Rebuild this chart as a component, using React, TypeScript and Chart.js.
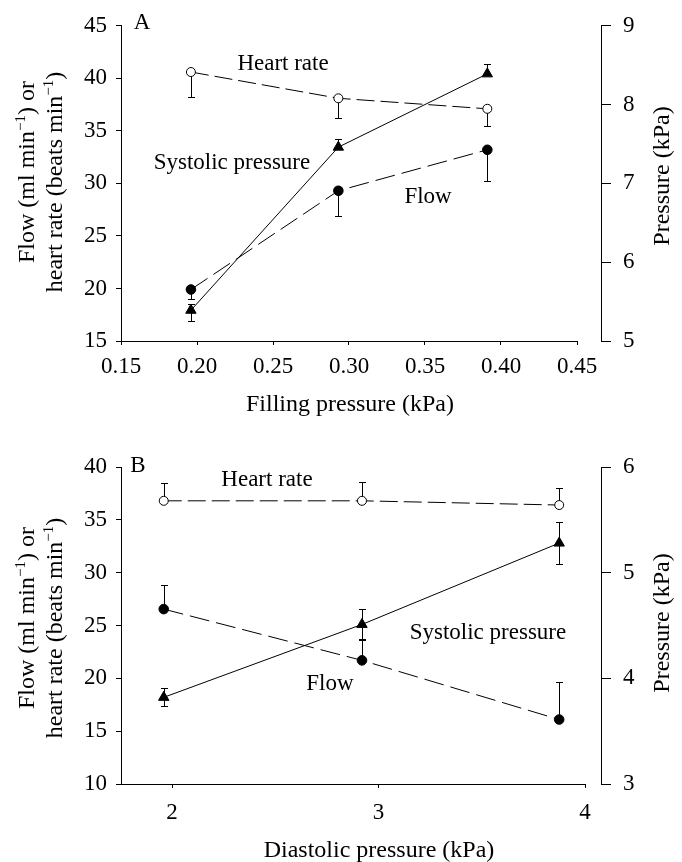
import React, { useEffect, useRef } from "react";
import { Chart, registerables } from "chart.js";
Chart.register(...registerables);

const FONT = "'Liberation Serif', 'Times New Roman', serif";

// ---------- Panel A data ----------
const fillingPressure = [0.196, 0.293, 0.391];
const heartRateA = [40.6, 38.1, 37.1];
const heartRateErrDownA = [2.4, 1.9, 1.6];
const flowA = [19.9, 29.3, 33.2];
const flowErrDownA = [0.9, 2.4, 2.95];
const systolicA = [5.39, 7.46, 8.39];
const systolicErrUpA = [0.08, 0.1, 0.12];
const systolicErrDownA = [0.13, 0, 0];
const xTicksA = [0.15, 0.2, 0.25, 0.3, 0.35, 0.4, 0.45];
const yTicksA = [15, 20, 25, 30, 35, 40, 45];
const y2TicksA = [5, 6, 7, 8, 9];

// ---------- Panel B data ----------
const diastolicPressure = [1.96, 2.92, 3.875];
const heartRateB = [36.8, 36.8, 36.4];
const heartRateErrUpB = [1.65, 1.8, 1.6];
const flowB = [26.55, 21.7, 16.1];
const flowErrUpB = [2.3, 2.0, 3.6];
const systolicB = [3.82, 4.51, 5.28];
const systolicErrB = [0.085, 0.15, 0.2];
const xTicksB = [2, 3, 4];
const yTicksB = [10, 15, 20, 25, 30, 35, 40];
const y2TicksB = [3, 4, 5, 6];

// labels anchored in data coordinates (x value, left-axis value at baseline)
const annotationsA = [
  { text: "A", x: 0.1638, y: 44.65 },
  { text: "Heart rate", x: 0.2566, y: 40.75 },
  { text: "Systolic pressure", x: 0.223, y: 31.4 },
  { text: "Flow", x: 0.352, y: 28.1 },
];
const annotationsB = [
  { text: "B", x: 1.835, y: 39.55 },
  { text: "Heart rate", x: 2.46, y: 38.23 },
  { text: "Systolic pressure", x: 3.53, y: 23.72 },
  { text: "Flow", x: 2.765, y: 18.9 },
];

type Seg = { t: string; sup?: boolean };
const leftTitle1: Seg[] = [{ t: "Flow (ml min" }, { t: "\u22121", sup: true }, { t: ") or" }];
const leftTitle2: Seg[] = [{ t: "heart rate (beats min" }, { t: "\u22121", sup: true }, { t: ")" }];
const rightTitle: Seg[] = [{ t: "Pressure (kPa)" }];

function drawRich(ctx: CanvasRenderingContext2D, segs: Seg[], cx: number, by: number, size: number, rotate: boolean) {
  ctx.save();
  ctx.translate(cx, by);
  if (rotate) ctx.rotate(-Math.PI / 2);
  const main = `${size}px ${FONT}`;
  const small = `${Math.round(size * 0.62)}px ${FONT}`;
  const widths = segs.map((s) => {
    ctx.font = s.sup ? small : main;
    return ctx.measureText(s.t).width;
  });
  const total = widths.reduce((a, b) => a + b, 0);
  let x = -total / 2;
  ctx.textAlign = "left";
  ctx.textBaseline = "alphabetic";
  ctx.fillStyle = "#000";
  segs.forEach((s, i) => {
    ctx.font = s.sup ? small : main;
    ctx.fillText(s.t, x, s.sup ? -size * 0.36 : 0);
    x += widths[i];
  });
  ctx.restore();
}

const errorBarPlugin = {
  id: "errorBars",
  beforeDatasetsDraw(chart: any) {
    const ctx = chart.ctx;
    const xs = chart.scales.x;
    chart.data.datasets.forEach((ds: any) => {
      const ys = chart.scales[ds.yAxisID];
      ds.data.forEach((p: any, j: number) => {
        const up = (ds.errUp && ds.errUp[j]) || 0;
        const dn = (ds.errDown && ds.errDown[j]) || 0;
        if (!up && !dn) return;
        const px = Math.round(xs.getPixelForValue(p.x)) + 0.5;
        const top = Math.round(ys.getPixelForValue(p.y + up)) + 0.5;
        const bot = Math.round(ys.getPixelForValue(p.y - dn)) + 0.5;
        ctx.save();
        ctx.strokeStyle = "#000";
        ctx.lineWidth = 1;
        ctx.beginPath();
        ctx.moveTo(px, top);
        ctx.lineTo(px, bot);
        if (up) {
          ctx.moveTo(px - 3.5, top);
          ctx.lineTo(px + 3.5, top);
        }
        if (dn) {
          ctx.moveTo(px - 3.5, bot);
          ctx.lineTo(px + 3.5, bot);
        }
        ctx.stroke();
        ctx.restore();
      });
    });
  },
};

type PanelCfg = {
  xs: number[];
  hr: number[]; hrUp: number[]; hrDn: number[];
  fl: number[]; flUp: number[]; flDn: number[];
  sy: number[]; syUp: number[]; syDn: number[];
  xMin: number; xMax: number; xTicks: number[]; xFmt: (v: number) => string;
  yMin: number; yMax: number; yTicks: number[];
  y2Min: number; y2Max: number; y2Ticks: number[];
  annotations: { text: string; x: number; y: number }[];
  xTitle: string; xTitleX: number; xTitleBase: number;
  topPad: number; bottomH: number; gapW: number; xLabelPad: number;
  l1: [number, number]; l2: [number, number]; rt: [number, number];
};

const zeros = [0, 0, 0];

const panelA: PanelCfg = {
  xs: fillingPressure,
  hr: heartRateA, hrUp: zeros, hrDn: heartRateErrDownA,
  fl: flowA, flUp: zeros, flDn: flowErrDownA,
  sy: systolicA, syUp: systolicErrUpA, syDn: systolicErrDownA,
  xMin: 0.15, xMax: 0.45, xTicks: xTicksA, xFmt: (v) => v.toFixed(2),
  yMin: 15, yMax: 45, yTicks: yTicksA,
  y2Min: 5, y2Max: 9, y2Ticks: y2TicksA,
  annotations: annotationsA,
  xTitle: "Filling pressure (kPa)", xTitleX: 350, xTitleBase: 411,
  topPad: 23, bottomH: 90, gapW: 24, xLabelPad: 8,
  l1: [34, 172], l2: [62, 182], rt: [669, 176],
};

const panelB: PanelCfg = {
  xs: diastolicPressure,
  hr: heartRateB, hrUp: heartRateErrUpB, hrDn: zeros,
  fl: flowB, flUp: flowErrUpB, flDn: zeros,
  sy: systolicB, syUp: systolicErrB, syDn: systolicErrB,
  xMin: 1.753, xMax: 4, xTicks: xTicksB, xFmt: (v) => String(v),
  yMin: 10, yMax: 40, yTicks: yTicksB,
  y2Min: 3, y2Max: 6, y2Ticks: y2TicksB,
  annotations: annotationsB,
  xTitle: "Diastolic pressure (kPa)", xTitleX: 379, xTitleBase: 426,
  topPad: 36, bottomH: 78, gapW: 16, xLabelPad: 11,
  l1: [34, 187], l2: [62, 197], rt: [669, 192],
};

function pts(xs: number[], ys: number[]) {
  return xs.map((x, i) => ({ x, y: ys[i] }));
}

function Panel({ cfg }: { cfg: PanelCfg }) {
  const ref = useRef<HTMLCanvasElement | null>(null);
  useEffect(() => {
    if (!ref.current) return;
    const textPlugin = {
      id: "texts",
      afterDraw(chart: any) {
        const ctx = chart.ctx;
        const xs = chart.scales.x;
        const ys = chart.scales.y;
        ctx.save();
        ctx.fillStyle = "#000";
        ctx.font = `23px ${FONT}`;
        ctx.textAlign = "center";
        ctx.textBaseline = "alphabetic";
        cfg.annotations.forEach((a) => {
          ctx.fillText(a.text, xs.getPixelForValue(a.x), ys.getPixelForValue(a.y));
        });
        ctx.font = `24px ${FONT}`;
        ctx.fillText(cfg.xTitle, cfg.xTitleX, cfg.xTitleBase);
        ctx.restore();
        drawRich(ctx, leftTitle1, cfg.l1[0], cfg.l1[1], 24, true);
        drawRich(ctx, leftTitle2, cfg.l2[0], cfg.l2[1], 24, true);
        drawRich(ctx, rightTitle, cfg.rt[0], cfg.rt[1], 24, true);
      },
    };
    const tickFont = { family: FONT, size: 23 };
    const axisCommon = (tl: number) => ({
      grid: { display: true, drawOnChartArea: false, drawTicks: true, tickLength: tl, color: "#000", lineWidth: 1 },
      border: { display: true, color: "#000", width: 1 },
    });
    const chart = new Chart(ref.current, {
      type: "line",
      data: {
        datasets: [
          {
            label: "Heart rate",
            data: pts(cfg.xs, cfg.hr),
            yAxisID: "y",
            xAxisID: "x",
            borderColor: "#000",
            borderWidth: 1,
            borderDash: [18, 6],
            pointStyle: "circle",
            pointRadius: 4.5,
            pointBackgroundColor: "#fff",
            pointBorderColor: "#000",
            pointBorderWidth: 1,
            tension: 0,
            errUp: cfg.hrUp,
            errDown: cfg.hrDn,
          } as any,
          {
            label: "Flow",
            data: pts(cfg.xs, cfg.fl),
            yAxisID: "y",
            xAxisID: "x",
            borderColor: "#000",
            borderWidth: 1,
            borderDash: [20, 7],
            pointStyle: "circle",
            pointRadius: 4.8,
            pointBackgroundColor: "#000",
            pointBorderColor: "#000",
            pointBorderWidth: 1,
            tension: 0,
            errUp: cfg.flUp,
            errDown: cfg.flDn,
          } as any,
          {
            label: "Systolic pressure",
            data: pts(cfg.xs, cfg.sy),
            yAxisID: "y2",
            xAxisID: "x",
            borderColor: "#000",
            borderWidth: 1,
            pointStyle: "triangle",
            pointRadius: 6,
            pointBackgroundColor: "#000",
            pointBorderColor: "#000",
            pointBorderWidth: 1,
            tension: 0,
            errUp: cfg.syUp,
            errDown: cfg.syDn,
          } as any,
        ],
      },
      options: {
        responsive: false,
        animation: false,
        events: [],
        layout: { padding: { top: cfg.topPad, left: 0, right: 0, bottom: 0 } },
        plugins: { legend: { display: false }, tooltip: { enabled: false } },
        scales: {
          x: {
            type: "linear",
            position: "bottom",
            min: cfg.xMin,
            max: cfg.xMax,
            ...axisCommon(4),
            afterBuildTicks: (s: any) => {
              s.ticks = cfg.xTicks.map((v) => ({ value: v }));
            },
            afterFit: (s: any) => {
              s.height = cfg.bottomH;
            },
            ticks: {
              color: "#000",
              font: tickFont,
              padding: cfg.xLabelPad,
              maxRotation: 0,
              autoSkip: false,
              callback: (v: any) => cfg.xFmt(Number(v)),
            },
          },
          y: {
            type: "linear",
            position: "left",
            min: cfg.yMin,
            max: cfg.yMax,
            ...axisCommon(5),
            afterBuildTicks: (s: any) => {
              s.ticks = cfg.yTicks.map((v) => ({ value: v }));
            },
            afterFit: (s: any) => {
              s.width = 121;
            },
            ticks: { color: "#000", font: tickFont, padding: 9, autoSkip: false },
          },
          gap: {
            type: "linear",
            position: "right",
            weight: 0,
            display: true,
            grid: { display: false },
            border: { display: false },
            ticks: { display: false },
            afterFit: (s: any) => {
              s.width = cfg.gapW;
            },
          },
          y2: {
            type: "linear",
            position: "right",
            weight: 1,
            min: cfg.y2Min,
            max: cfg.y2Max,
            ...axisCommon(10),
            afterBuildTicks: (s: any) => {
              s.ticks = cfg.y2Ticks.map((v) => ({ value: v }));
            },
            afterFit: (s: any) => {
              s.width = 81;
            },
            ticks: { color: "#000", font: tickFont, padding: 12, autoSkip: false },
          },
        },
      } as any,
      plugins: [errorBarPlugin, textPlugin],
    });
    return () => chart.destroy();
  }, [cfg]);
  return <canvas ref={ref} width={682} height={431} style={{ display: "block", width: 682, height: 431 }} />;
}

export default function App() {
  return (
    <div style={{ position: "absolute", left: 0, top: 0, width: 682, height: 862, background: "#fff" }}>
      <Panel cfg={panelA} />
      <Panel cfg={panelB} />
    </div>
  );
}
